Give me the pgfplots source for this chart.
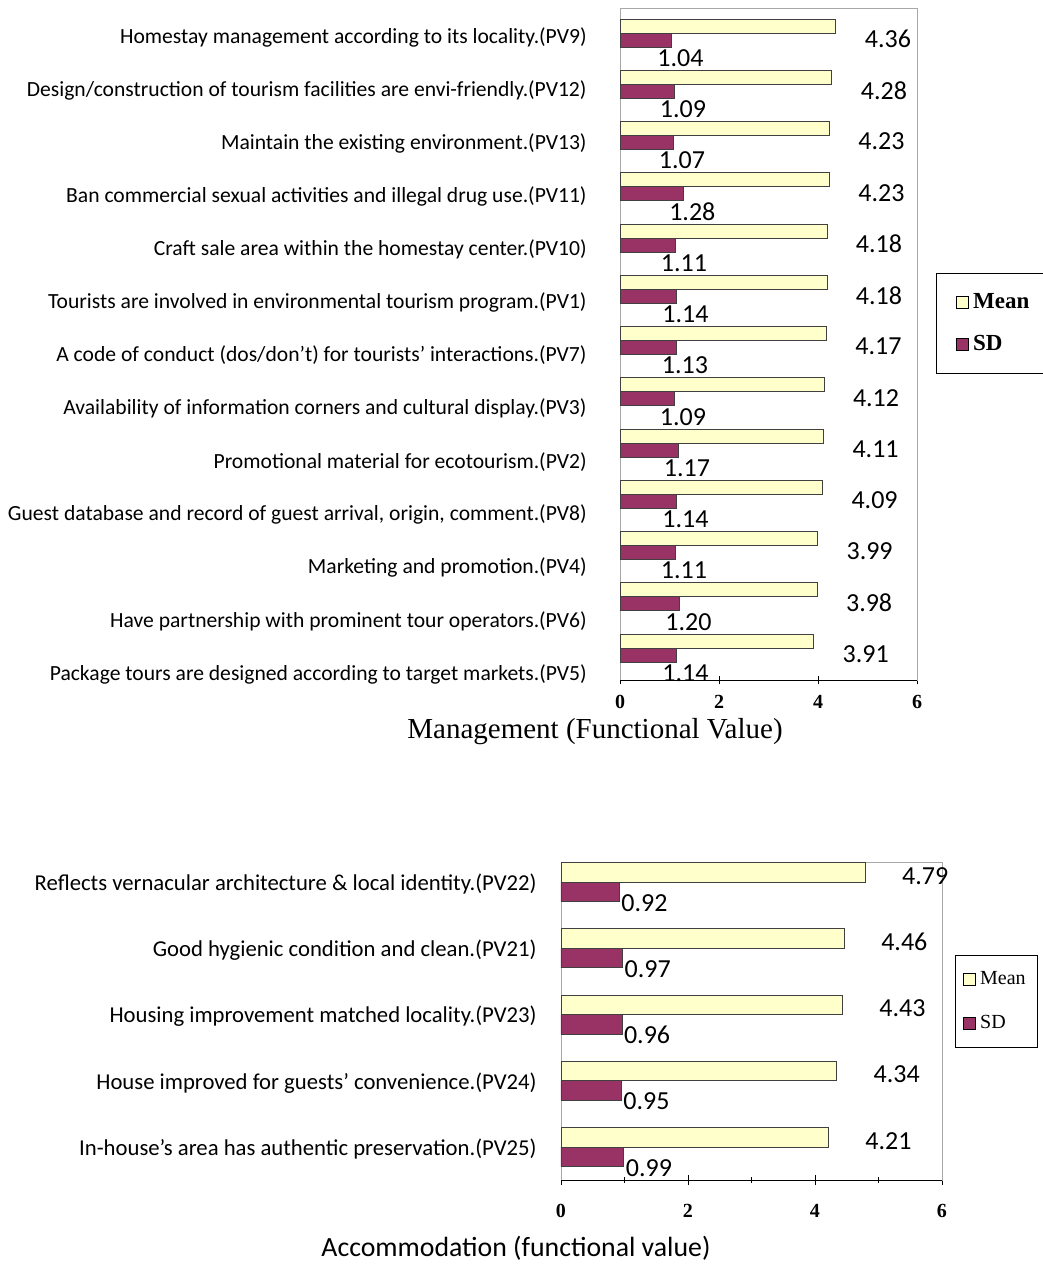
\documentclass[border=0pt]{standalone}
\usepackage{pgfplots}
\pgfplotsset{compat=1.18}
\usepackage{pgfplotstable}
\usepackage{fontspec}
\setmainfont{Carlito}
\newfontfamily\tnr{Liberation Serif}
\definecolor{meanfill}{HTML}{FFFFCC}
\definecolor{sdfill}{HTML}{993366}
\definecolor{framec}{HTML}{A8A8A8}
\pgfplotsset{/pgf/number format/assume math mode=true}

\pgfplotstableread{
idx mean sd
0 4.36 1.04
1 4.28 1.09
2 4.23 1.07
3 4.23 1.28
4 4.18 1.11
5 4.18 1.14
6 4.17 1.13
7 4.12 1.09
8 4.11 1.17
9 4.09 1.14
10 3.99 1.11
11 3.98 1.20
12 3.91 1.14
}\topdata

\pgfplotstableread{
idx mean sd
0 4.79 0.92
1 4.46 0.97
2 4.43 0.96
3 4.34 0.95
4 4.21 0.99
}\botdata

\pgfplotsset{
  barbase/.style={
    scale only axis, xbar, y dir=reverse,
    xmin=0, xmax=6, ytick=\empty,
    axis line style={framec},
    tick style={black},
    tick align=center,
    xtick pos=bottom,
    xtick={0,2,4,6},
    xticklabel style={font=\tnr\bfseries\fontsize{10}{12}\selectfont},
    legend cell align=left,
    legend image code/.code={\draw[##1,draw=black] (0pt,-3pt) rectangle (6pt,3pt);},
  },
  lbl/.style={nodes near coords={\pgfmathprintnumber[fixed,fixed zerofill,precision=2]{\pgfplotspointmeta}}, point meta=x},
}

\begin{document}
\begin{tikzpicture}
\useasboundingbox (0pt,0pt) rectangle (521.5pt,-632.5pt);

% ---------- top chart: category labels ----------
\begin{axis}[
  at={(310pt,-340pt)}, anchor=south west, scale only axis,
  width=148.5pt, height=336pt,
  xmin=0, xmax=6, ymin=-0.546, ymax=12.113, y dir=reverse,
  axis line style={draw=none}, major tick length=0pt,
  xtick=\empty, ytick={0,...,12},
  yticklabel style={font=\fontsize{10.8}{12}\selectfont, anchor=east, inner sep=0pt, xshift=-16.5pt},
  yticklabels={
    {Homestay management according to its locality.(PV9)},
    {Design/construction of tourism facilities are envi-friendly.(PV12)},
    {Maintain the existing environment.(PV13)},
    {Ban commercial sexual activities and illegal drug use.(PV11)},
    {Craft sale area within the homestay center.(PV10)},
    {Tourists are involved in environmental tourism program.(PV1)},
    {A code of conduct (dos/don’t) for tourists’ interactions.(PV7)},
    {Availability of information corners and cultural display.(PV3)},
    {Promotional material for ecotourism.(PV2)},
    {Guest database and record of guest arrival, origin, comment.(PV8)},
    {Marketing and promotion.(PV4)},
    {Have partnership with prominent tour operators.(PV6)},
    {Package tours are designed according to target markets.(PV5)}},
]
\addplot[draw=none] coordinates {(0,0)};
\end{axis}

% ---------- top chart: bars ----------
\begin{axis}[barbase,
  at={(310pt,-340pt)}, anchor=south west,
  width=148.5pt, height=336pt,
  ymin=-0.488, ymax=12.624,
  bar width=7pt,
  xticklabel style={yshift=-2pt},
  legend style={at={(1.064,0.606)}, anchor=north west, draw=black,
    font=\tnr\bfseries\fontsize{11.5}{13}\selectfont, row sep=8pt,
    inner xsep=10pt, inner ysep=8pt},
]
\addplot[fill=meanfill, draw=black!75, bar shift=3.5pt, lbl,
  nodes near coords style={anchor=west, xshift=11pt, yshift=-6.5pt, font=\fontsize{13}{15}\selectfont, text=black}]
  table[x=mean, y=idx] {\topdata};
\addlegendentry{Mean}
\addplot[fill=sdfill, draw=black!75, bar shift=-3.5pt, lbl,
  nodes near coords style={anchor=center, xshift=4.5pt, yshift=-9pt, font=\fontsize{13}{15}\selectfont, text=black}]
  table[x=sd, y=idx] {\topdata};
\addlegendentry{SD}
\draw[black] (rel axis cs:0,0) -- (rel axis cs:1,0);
\end{axis}

% ---------- bottom chart ----------
\begin{axis}[barbase,
  at={(280.5pt,-590pt)}, anchor=south west,
  width=190.5pt, height=159pt,
  ymin=-0.302, ymax=4.498,
  bar width=9.75pt,
  minor xtick={1,3,5},
  xticklabel style={yshift=-6pt},
  ytick={0,...,4}, major tick length=5pt,
  ytick style={draw=none},
  yticklabel style={font=\fontsize{11.35}{13}\selectfont, anchor=east, inner sep=0pt, xshift=-9.5pt, yshift=-1pt},
  yticklabels={
    {Reflects vernacular architecture \& local identity.(PV22)},
    {Good hygienic condition and clean.(PV21)},
    {Housing improvement matched locality.(PV23)},
    {House improved for guests’ convenience.(PV24)},
    {In-house’s area has authentic preservation.(PV25)}},
  legend style={at={(1.034,0.7075)}, anchor=north west, draw=black,
    font=\tnr\fontsize{10}{12}\selectfont, row sep=10pt,
    inner xsep=4pt, inner ysep=6pt},
]
\addplot[fill=meanfill, draw=black!75, bar shift=4.875pt, lbl,
  nodes near coords style={anchor=west, xshift=15pt, yshift=-1.75pt, font=\fontsize{13}{15}\selectfont, text=black}]
  table[x=mean, y=idx] {\botdata};
\addlegendentry{Mean}
\addplot[fill=sdfill, draw=black!75, bar shift=-4.875pt, lbl,
  nodes near coords style={anchor=west, xshift=-2.5pt, yshift=-5.5pt, font=\fontsize{13}{15}\selectfont, text=black}]
  table[x=sd, y=idx] {\botdata};
\addlegendentry{SD}
\draw[black] (rel axis cs:0,0) -- (rel axis cs:1,0);
\end{axis}

\node[font=\tnr\fontsize{14.5}{16}\selectfont] at (297.5pt,-366pt) {Management (Functional Value)};
\node[font=\fontsize{13.9}{15}\selectfont] at (258pt,-624pt) {Accommodation (functional value)};
\end{tikzpicture}
\end{document}
